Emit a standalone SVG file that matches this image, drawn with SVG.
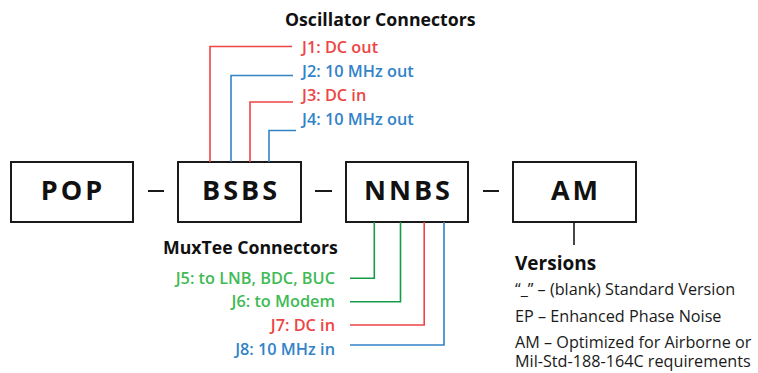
<svg xmlns="http://www.w3.org/2000/svg" width="758" height="373" viewBox="0 0 758 373">
  <style>
    .box { fill: #ffffff; stroke: #1a1a1a; stroke-width: 2; }
    .code { font-family: "Open Sans", "Liberation Sans", sans-serif; font-weight: 700; font-size: 27px; letter-spacing: 3px; fill: #111; text-anchor: middle; }
    .dash { stroke: #1a1a1a; stroke-width: 2; }
    .head { font-family: "Open Sans", "Liberation Sans", sans-serif; font-weight: 700; font-size: 17.7px; fill: #111; }
    .lbl { font-family: "Open Sans", "Liberation Sans", sans-serif; font-weight: 600; font-size: 16.3px; }
    .ver { font-family: "Open Sans", "Liberation Sans", sans-serif; font-size: 16.2px; fill: #1a1a1a; }
    .red { fill: #ee4444; }
    .blue { fill: #3283c8; }
    .green { fill: #3fba55; }
    .wire { fill: none; stroke-width: 1.6; }
    .wr { stroke: #ee4444; }
    .wb { stroke: #3283c8; }
    .wg { stroke: #169a48; }
    .wk { stroke: #1a1a1a; }
  </style>

  <!-- part-number blocks -->
  <g id="pop">
    <rect class="box" x="11" y="162" width="122" height="60"/>
    <text class="code" x="73" y="200">POP</text>
  </g>
  <g id="bsbs">
    <rect class="box" x="178" y="162" width="123" height="60"/>
    <text class="code" x="241" y="200">BSBS</text>
  </g>
  <g id="nnbs">
    <rect class="box" x="346" y="162" width="122" height="60"/>
    <text class="code" x="408.5" y="200">NNBS</text>
  </g>
  <g id="am">
    <rect class="box" x="513" y="162" width="123" height="60"/>
    <text class="code" x="576" y="200">AM</text>
  </g>

  <!-- separators -->
  <g id="separators">
    <line class="dash" x1="148" y1="191" x2="164" y2="191"/>
    <line class="dash" x1="315" y1="191" x2="332" y2="191"/>
    <line class="dash" x1="483" y1="191" x2="499" y2="191"/>
  </g>

  <!-- connectors -->
  <g id="connectors">
    <polyline class="wire wr" points="210,162 210,46.5 292,46.5"/>
    <polyline class="wire wb" points="231,162 231,75.5 293,75.5"/>
    <polyline class="wire wr" points="250,162 250,102 293,102"/>
    <polyline class="wire wb" points="269,162 269,130.5 296,130.5"/>

    <polyline class="wire wg" points="374.3,222 374.3,278.3 350,278.3"/>
    <polyline class="wire wg" points="400.5,222 400.5,301.7 350,301.7"/>
    <polyline class="wire wr" points="424.2,222 424.2,325 350,325"/>
    <polyline class="wire wb" points="444,222 444,345 350,345"/>

    <line class="wire wk" x1="574" y1="222" x2="574" y2="245"/>
  </g>

  <!-- oscillator connector labels -->
  <g id="oscillator-labels">
    <text class="head" x="285" y="26">Oscillator Connectors</text>
    <text class="lbl red" x="302" y="53">J1: DC out</text>
    <text class="lbl blue" x="302" y="77">J2: 10 MHz out</text>
    <text class="lbl red" x="302" y="101">J3: DC in</text>
    <text class="lbl blue" x="302" y="124.5">J4: 10 MHz out</text>
  </g>

  <!-- muxtee connector labels -->
  <g id="muxtee-labels">
    <text class="head" x="163" y="254">MuxTee Connectors</text>
    <text class="lbl green" x="335" y="283.5" text-anchor="end">J5: to LNB, BDC, BUC</text>
    <text class="lbl green" x="335" y="307.3" text-anchor="end">J6: to Modem</text>
    <text class="lbl red" x="335" y="331" text-anchor="end">J7: DC in</text>
    <text class="lbl blue" x="335" y="355" text-anchor="end">J8: 10 MHz in</text>
  </g>

  <!-- versions -->
  <g id="versions">
    <text class="head" x="515" y="269.5" style="font-size:19px">Versions</text>
    <text class="ver" x="515" y="295">“_” – (blank) Standard Version</text>
    <text class="ver" x="515" y="321.7">EP – Enhanced Phase Noise</text>
    <text class="ver" x="515" y="348.3">AM – Optimized for Airborne or</text>
    <text class="ver" x="515" y="367">Mil-Std-188-164C requirements</text>
  </g>
</svg>
